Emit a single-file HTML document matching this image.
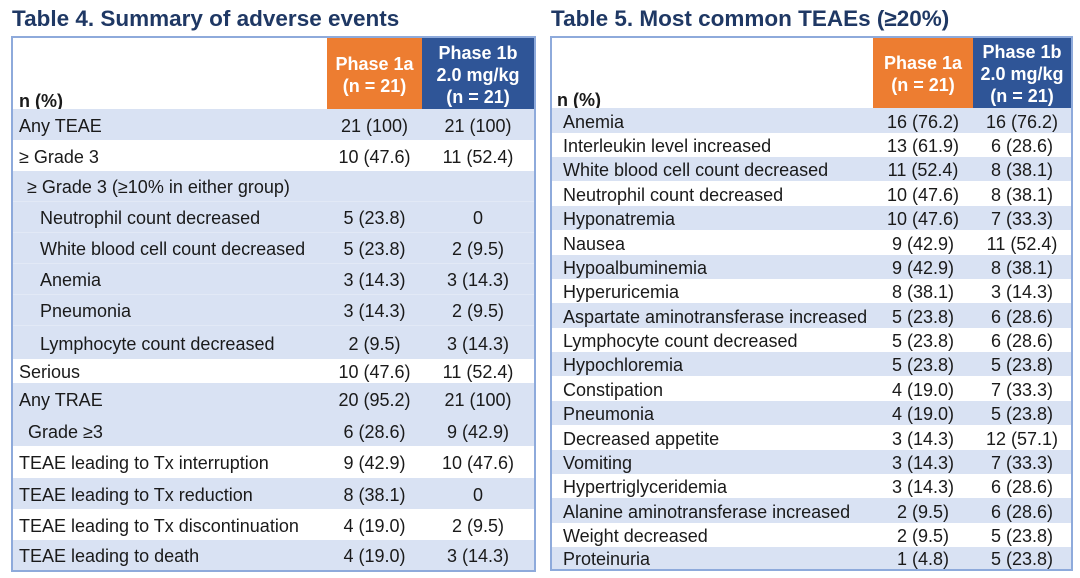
<!DOCTYPE html>
<html>
<head>
<meta charset="utf-8">
<style>
*{margin:0;padding:0;box-sizing:border-box;}
html,body{width:1080px;height:578px;background:#fff;overflow:hidden;}
body{position:relative;font-family:"Liberation Sans",Arial,sans-serif;color:#1a1a1a;}
.title{position:absolute;top:8px;font-size:22.5px;line-height:22px;font-weight:bold;color:#1f3864;white-space:nowrap;}
.box{position:absolute;border:2px solid #8eaadb;}
.r{position:absolute;display:flex;align-items:center;font-size:18px;white-space:nowrap;padding-top:3px;}
.r span{position:absolute;}
.hd{position:absolute;display:flex;align-items:center;justify-content:center;text-align:center;color:#fff;font-weight:bold;font-size:18px;line-height:22px;padding-top:2px;}
.np{position:absolute;font-weight:bold;font-size:18px;line-height:20px;}
.b{background:#d9e2f3;}
.w{background:#fff;}
</style>
</head>
<body>
<div class="title" style="left:12px;">Table 4. Summary of adverse events</div>
<div class="title" style="left:551px;">Table 5. Most common TEAEs (≥20%)</div>

<!-- Table 4 -->
<div class="box" style="left:11px;top:36px;width:525px;height:536px;"></div>
<div class="hd" style="left:327px;top:38px;width:95px;height:71px;background:#ed7d31;">Phase 1a<br>(n = 21)</div>
<div class="hd" style="left:422px;top:38px;width:112px;height:71px;background:#2f5597;">Phase 1b<br>2.0 mg/kg<br>(n = 21)</div>
<div class="np" style="left:19px;top:91px;">n (%)</div>

<!-- Table 5 -->
<div class="box" style="left:550px;top:36px;width:523px;height:535px;"></div>
<div class="hd" style="left:873px;top:38px;width:100px;height:70px;background:#ed7d31;">Phase 1a<br>(n = 21)</div>
<div class="hd" style="left:973px;top:38px;width:98px;height:70px;background:#2f5597;">Phase 1b<br>2.0 mg/kg<br>(n = 21)</div>
<div class="np" style="left:557px;top:90px;">n (%)</div>

<!-- Table 4 rows -->
<div class="r b" style="left:13px;top:109px;width:521px;height:31px;"><span style="left:6px;">Any TEAE</span><span style="left:314px;width:95px;text-align:center;">21 (100)</span><span style="left:409px;width:112px;text-align:center;">21 (100)</span></div>
<div class="r w" style="left:13px;top:140px;width:521px;height:31px;"><span style="left:6px;">≥ Grade 3</span><span style="left:314px;width:95px;text-align:center;">10 (47.6)</span><span style="left:409px;width:112px;text-align:center;">11 (52.4)</span></div>
<div class="r b" style="left:13px;top:171px;width:521px;height:31px;border-bottom:1px solid #e2e9f6;"><span style="left:14px;">≥ Grade 3 (≥10% in either group)</span></div>
<div class="r b" style="left:13px;top:202px;width:521px;height:31px;border-bottom:1px solid #e2e9f6;"><span style="left:27px;">Neutrophil count decreased</span><span style="left:314px;width:95px;text-align:center;">5 (23.8)</span><span style="left:409px;width:112px;text-align:center;">0</span></div>
<div class="r b" style="left:13px;top:233px;width:521px;height:31px;border-bottom:1px solid #e2e9f6;"><span style="left:27px;">White blood cell count decreased</span><span style="left:314px;width:95px;text-align:center;">5 (23.8)</span><span style="left:409px;width:112px;text-align:center;">2 (9.5)</span></div>
<div class="r b" style="left:13px;top:264px;width:521px;height:31px;border-bottom:1px solid #e2e9f6;"><span style="left:27px;">Anemia</span><span style="left:314px;width:95px;text-align:center;">3 (14.3)</span><span style="left:409px;width:112px;text-align:center;">3 (14.3)</span></div>
<div class="r b" style="left:13px;top:295px;width:521px;height:31px;border-bottom:1px solid #e2e9f6;"><span style="left:27px;">Pneumonia</span><span style="left:314px;width:95px;text-align:center;">3 (14.3)</span><span style="left:409px;width:112px;text-align:center;">2 (9.5)</span></div>
<div class="r b" style="left:13px;top:326px;width:521px;height:33px;"><span style="left:27px;">Lymphocyte count decreased</span><span style="left:314px;width:95px;text-align:center;">2 (9.5)</span><span style="left:409px;width:112px;text-align:center;">3 (14.3)</span></div>
<div class="r w" style="left:13px;top:359px;width:521px;height:24px;"><span style="left:6px;">Serious</span><span style="left:314px;width:95px;text-align:center;">10 (47.6)</span><span style="left:409px;width:112px;text-align:center;">11 (52.4)</span></div>
<div class="r b" style="left:13px;top:383px;width:521px;height:32px;"><span style="left:6px;">Any TRAE</span><span style="left:314px;width:95px;text-align:center;">20 (95.2)</span><span style="left:409px;width:112px;text-align:center;">21 (100)</span></div>
<div class="r b" style="left:13px;top:415px;width:521px;height:31px;"><span style="left:15px;">Grade ≥3</span><span style="left:314px;width:95px;text-align:center;">6 (28.6)</span><span style="left:409px;width:112px;text-align:center;">9 (42.9)</span></div>
<div class="r w" style="left:13px;top:446px;width:521px;height:32px;"><span style="left:6px;">TEAE leading to Tx interruption</span><span style="left:314px;width:95px;text-align:center;">9 (42.9)</span><span style="left:409px;width:112px;text-align:center;">10 (47.6)</span></div>
<div class="r b" style="left:13px;top:478px;width:521px;height:31px;"><span style="left:6px;">TEAE leading to Tx reduction</span><span style="left:314px;width:95px;text-align:center;">8 (38.1)</span><span style="left:409px;width:112px;text-align:center;">0</span></div>
<div class="r w" style="left:13px;top:509px;width:521px;height:31px;"><span style="left:6px;">TEAE leading to Tx discontinuation</span><span style="left:314px;width:95px;text-align:center;">4 (19.0)</span><span style="left:409px;width:112px;text-align:center;">2 (9.5)</span></div>
<div class="r b" style="left:13px;top:540px;width:521px;height:30px;"><span style="left:6px;">TEAE leading to death</span><span style="left:314px;width:95px;text-align:center;">4 (19.0)</span><span style="left:409px;width:112px;text-align:center;">3 (14.3)</span></div>

<!-- Table 5 rows -->
<div class="r b" style="left:552px;top:108px;width:519px;height:25px;"><span style="left:11px;">Anemia</span><span style="left:321px;width:100px;text-align:center;">16 (76.2)</span><span style="left:421px;width:98px;text-align:center;">16 (76.2)</span></div>
<div class="r w" style="left:552px;top:133px;width:519px;height:24px;"><span style="left:11px;">Interleukin level increased</span><span style="left:321px;width:100px;text-align:center;">13 (61.9)</span><span style="left:421px;width:98px;text-align:center;">6 (28.6)</span></div>
<div class="r b" style="left:552px;top:157px;width:519px;height:24px;"><span style="left:11px;">White blood cell count decreased</span><span style="left:321px;width:100px;text-align:center;">11 (52.4)</span><span style="left:421px;width:98px;text-align:center;">8 (38.1)</span></div>
<div class="r w" style="left:552px;top:181px;width:519px;height:25px;"><span style="left:11px;">Neutrophil count decreased</span><span style="left:321px;width:100px;text-align:center;">10 (47.6)</span><span style="left:421px;width:98px;text-align:center;">8 (38.1)</span></div>
<div class="r b" style="left:552px;top:206px;width:519px;height:24px;"><span style="left:11px;">Hyponatremia</span><span style="left:321px;width:100px;text-align:center;">10 (47.6)</span><span style="left:421px;width:98px;text-align:center;">7 (33.3)</span></div>
<div class="r w" style="left:552px;top:230px;width:519px;height:25px;"><span style="left:11px;">Nausea</span><span style="left:321px;width:100px;text-align:center;">9 (42.9)</span><span style="left:421px;width:98px;text-align:center;">11 (52.4)</span></div>
<div class="r b" style="left:552px;top:255px;width:519px;height:24px;"><span style="left:11px;">Hypoalbuminemia</span><span style="left:321px;width:100px;text-align:center;">9 (42.9)</span><span style="left:421px;width:98px;text-align:center;">8 (38.1)</span></div>
<div class="r w" style="left:552px;top:279px;width:519px;height:24px;"><span style="left:11px;">Hyperuricemia</span><span style="left:321px;width:100px;text-align:center;">8 (38.1)</span><span style="left:421px;width:98px;text-align:center;">3 (14.3)</span></div>
<div class="r b" style="left:552px;top:303px;width:519px;height:25px;"><span style="left:11px;">Aspartate aminotransferase increased</span><span style="left:321px;width:100px;text-align:center;">5 (23.8)</span><span style="left:421px;width:98px;text-align:center;">6 (28.6)</span></div>
<div class="r w" style="left:552px;top:328px;width:519px;height:24px;"><span style="left:11px;">Lymphocyte count decreased</span><span style="left:321px;width:100px;text-align:center;">5 (23.8)</span><span style="left:421px;width:98px;text-align:center;">6 (28.6)</span></div>
<div class="r b" style="left:552px;top:352px;width:519px;height:24px;"><span style="left:11px;">Hypochloremia</span><span style="left:321px;width:100px;text-align:center;">5 (23.8)</span><span style="left:421px;width:98px;text-align:center;">5 (23.8)</span></div>
<div class="r w" style="left:552px;top:376px;width:519px;height:25px;"><span style="left:11px;">Constipation</span><span style="left:321px;width:100px;text-align:center;">4 (19.0)</span><span style="left:421px;width:98px;text-align:center;">7 (33.3)</span></div>
<div class="r b" style="left:552px;top:401px;width:519px;height:24px;"><span style="left:11px;">Pneumonia</span><span style="left:321px;width:100px;text-align:center;">4 (19.0)</span><span style="left:421px;width:98px;text-align:center;">5 (23.8)</span></div>
<div class="r w" style="left:552px;top:425px;width:519px;height:25px;"><span style="left:11px;">Decreased appetite</span><span style="left:321px;width:100px;text-align:center;">3 (14.3)</span><span style="left:421px;width:98px;text-align:center;">12 (57.1)</span></div>
<div class="r b" style="left:552px;top:450px;width:519px;height:24px;"><span style="left:11px;">Vomiting</span><span style="left:321px;width:100px;text-align:center;">3 (14.3)</span><span style="left:421px;width:98px;text-align:center;">7 (33.3)</span></div>
<div class="r w" style="left:552px;top:474px;width:519px;height:24px;"><span style="left:11px;">Hypertriglyceridemia</span><span style="left:321px;width:100px;text-align:center;">3 (14.3)</span><span style="left:421px;width:98px;text-align:center;">6 (28.6)</span></div>
<div class="r b" style="left:552px;top:498px;width:519px;height:25px;"><span style="left:11px;">Alanine aminotransferase increased</span><span style="left:321px;width:100px;text-align:center;">2 (9.5)</span><span style="left:421px;width:98px;text-align:center;">6 (28.6)</span></div>
<div class="r w" style="left:552px;top:523px;width:519px;height:24px;"><span style="left:11px;">Weight decreased</span><span style="left:321px;width:100px;text-align:center;">2 (9.5)</span><span style="left:421px;width:98px;text-align:center;">5 (23.8)</span></div>
<div class="r b" style="left:552px;top:547px;width:519px;height:22px;"><span style="left:11px;">Proteinuria</span><span style="left:321px;width:100px;text-align:center;">1 (4.8)</span><span style="left:421px;width:98px;text-align:center;">5 (23.8)</span></div>
</body>
</html>
